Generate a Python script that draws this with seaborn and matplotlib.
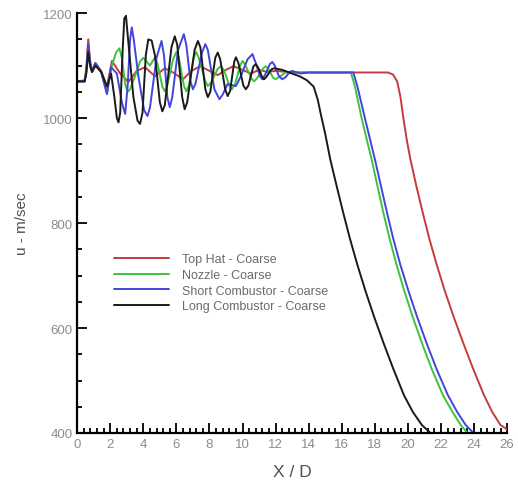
import pandas as pd
import matplotlib
matplotlib.use("Agg")
import matplotlib.pyplot as plt
from matplotlib.ticker import MultipleLocator
import seaborn as sns

# values
top_hat_x = [0, 0.45, 0.55, 0.67, 0.78, 0.9, 1.1, 1.45, 1.8, 2.1, 2.6, 3.1, 3.6, 4.1, 4.7,
             5.3, 5.8, 6.4, 6.9, 7.45, 8.0, 8.5, 9.0, 9.45, 10.0, 10.5, 11.0, 11.5, 12.0,
             13.0, 16.0, 18.8, 19.1, 19.35, 19.55, 19.75, 19.95, 20.15, 20.5, 20.88,
             21.28, 21.73, 22.22, 22.76, 23.34, 23.95, 24.6, 25.1, 25.6, 26.0]
top_hat_u = [1070, 1072, 1095, 1150, 1110, 1090, 1105, 1090, 1060, 1109, 1085, 1069, 1090,
             1097, 1080, 1095, 1087, 1074, 1090, 1099, 1090, 1082, 1092, 1099, 1092, 1085,
             1092, 1088, 1090, 1087, 1087, 1087, 1083, 1070, 1040, 995, 955, 922, 872, 822,
             772, 722, 672, 622, 572, 522, 472, 440, 415, 407]

nozzle_x = [0, 0.45, 0.55, 0.67, 0.78, 0.9, 1.1, 1.45, 1.8, 2.05, 2.35, 2.55, 2.7, 2.9,
            3.05, 3.2, 3.5, 3.8, 4.0, 4.2, 4.4, 4.55, 4.7, 4.85, 5.15, 5.3, 5.45, 5.8,
            6.0, 6.15, 6.45, 6.6, 6.75, 7.05, 7.2, 7.35, 7.75, 7.9, 8.1, 8.5, 8.7, 8.9,
            9.2, 9.35, 9.55, 9.85, 10.0, 10.15, 10.55, 10.7, 10.9, 11.25, 11.4, 11.55,
            11.85, 12.0, 12.3, 12.6, 14.0, 16.55, 16.8, 17.2, 17.8, 18.15, 18.5, 18.88,
            19.3, 19.77, 20.28, 20.84, 21.44, 22.12, 22.7, 23.2, 23.55]
nozzle_u = [1070, 1070, 1088, 1135, 1100, 1088, 1105, 1088, 1046, 1095, 1125, 1133, 1115,
            1065, 1050, 1055, 1080, 1108, 1115, 1108, 1100, 1108, 1115, 1105, 1060, 1051,
            1062, 1112, 1126, 1115, 1062, 1051, 1062, 1115, 1126, 1115, 1070, 1061, 1068,
            1094, 1099, 1090, 1062, 1055, 1065, 1100, 1109, 1102, 1075, 1070, 1077, 1095,
            1099, 1094, 1077, 1074, 1080, 1087, 1087, 1087, 1060, 1000, 922, 872, 822, 772,
            722, 672, 622, 572, 522, 472, 440, 415, 402]

short_x = [0, 0.45, 0.55, 0.67, 0.78, 0.9, 1.1, 1.45, 1.8, 2.05, 2.4, 2.7, 2.9, 3.05, 3.2,
           3.3, 3.42, 3.7, 4.05, 4.25, 4.4, 4.8, 5.1, 5.25, 5.45, 5.6, 5.75, 6.1, 6.45,
           6.6, 6.85, 7.0, 7.15, 7.55, 7.75, 7.9, 8.3, 8.6, 8.8, 9.1, 9.6, 9.9, 10.3,
           10.6, 10.8, 11.05, 11.2, 11.4, 11.65, 11.8, 11.95, 12.2, 12.4, 12.6, 12.85,
           13.0, 13.5, 14.0, 16.7, 16.95, 17.4, 18.0, 18.36, 18.72, 19.1, 19.53, 20.02,
           20.55, 21.12, 21.73, 22.42, 22.98, 23.5, 23.9]
short_u = [1070, 1070, 1088, 1141, 1105, 1088, 1105, 1088, 1046, 1097, 1085, 1030, 1008,
           1060, 1150, 1173, 1150, 1080, 1015, 1004, 1020, 1115, 1147, 1120, 1040, 1021,
           1040, 1130, 1160, 1140, 1070, 1055, 1065, 1125, 1141, 1130, 1055, 1036, 1045,
           1065, 1061, 1080, 1112, 1122, 1105, 1080, 1074, 1085, 1103, 1107, 1100, 1080,
           1074, 1078, 1088, 1090, 1085, 1087, 1087, 1060, 1000, 922, 872, 822, 772, 722,
           672, 622, 572, 522, 472, 440, 415, 402]

long_x = [0, 0.45, 0.55, 0.67, 0.78, 0.9, 1.1, 1.45, 1.8, 2.05, 2.25, 2.4, 2.5, 2.6, 2.75,
          2.85, 2.95, 3.05, 3.4, 3.65, 3.8, 3.95, 4.15, 4.3, 4.5, 4.7, 5.0, 5.15, 5.3,
          5.7, 5.9, 6.05, 6.35, 6.5, 6.65, 7.1, 7.3, 7.45, 7.75, 7.9, 8.05, 8.35, 8.5,
          8.65, 8.95, 9.1, 9.25, 9.5, 9.6, 9.75, 10.05, 10.2, 10.35, 10.65, 10.8, 10.95,
          11.2, 11.3, 11.45, 11.75, 11.9, 12.4, 13.0, 13.5, 13.9, 14.3, 14.55, 14.75,
          15.0, 15.3, 15.68, 16.07, 16.48, 16.93, 17.42, 17.95, 18.52, 19.12, 19.76,
          20.3, 20.85, 21.3]
long_u = [1070, 1070, 1085, 1126, 1100, 1088, 1100, 1088, 1060, 1085, 1040, 1000, 992, 1010,
          1130, 1190, 1195, 1160, 1040, 995, 989, 1010, 1120, 1150, 1148, 1120, 1030, 1013,
          1025, 1135, 1156, 1140, 1040, 1017, 1030, 1130, 1147, 1135, 1055, 1040, 1050,
          1115, 1125, 1112, 1055, 1042, 1052, 1108, 1116, 1105, 1062, 1055, 1062, 1098,
          1103, 1096, 1077, 1074, 1079, 1093, 1095, 1092, 1085, 1079, 1072, 1060, 1035,
          1005, 970, 922, 872, 822, 772, 722, 672, 622, 572, 522, 472, 440, 415, 402]

labels = ["Top Hat - Coarse", "Nozzle - Coarse", "Short Combustor - Coarse",
          "Long Combustor - Coarse"]
colors = ["#c43c3c", "#3cc43c", "#4444dc", "#1a1a1a"]

frames = []
for name, xs, us in zip(labels, [top_hat_x, nozzle_x, short_x, long_x],
                        [top_hat_u, nozzle_u, short_u, long_u]):
    frames.append(pd.DataFrame({"x": xs, "u": us, "case": name}))
df = pd.concat(frames, ignore_index=True)

sns.set_style("ticks")
plt.rcParams["font.family"] = ["Liberation Sans", "DejaVu Sans"]

fig = plt.figure(figsize=(5.18, 4.89), dpi=100)
ax = fig.add_axes([0.149, 0.1125, 0.830, 0.8585])

sns.lineplot(data=df, x="x", y="u", hue="case", hue_order=labels,
             palette=dict(zip(labels, colors)), estimator=None, sort=False,
             linewidth=1.4, ax=ax)

ax.set_xlim(0, 26)
ax.set_ylim(400, 1200)
ax.xaxis.set_major_locator(MultipleLocator(2))
ax.xaxis.set_minor_locator(MultipleLocator(0.4))
ax.yaxis.set_major_locator(MultipleLocator(200))
ax.yaxis.set_minor_locator(MultipleLocator(50))
ax.tick_params(which="both", direction="in", colors="black", labelcolor="#8c8c8c",
               labelsize=9.5, width=1.3)
ax.tick_params(which="major", length=7)
ax.tick_params(which="minor", length=3.5)
sns.despine(ax=ax)
for side in ["left", "bottom"]:
    ax.spines[side].set_linewidth(1.6)
    ax.spines[side].set_color("black")

ax.set_xlabel("X / D", fontsize=12.5, color="#505050", labelpad=10)
ax.set_ylabel("u - m/sec", fontsize=11, color="#505050", labelpad=10)

leg = ax.legend(loc="upper left", bbox_to_anchor=(0.06, 0.455), frameon=False,
                fontsize=9, handlelength=4.4, handletextpad=1.0, labelspacing=0.3)
for t in leg.get_texts():
    t.set_color("#6a6a6a")

fig.savefig("out.png", dpi=100)
